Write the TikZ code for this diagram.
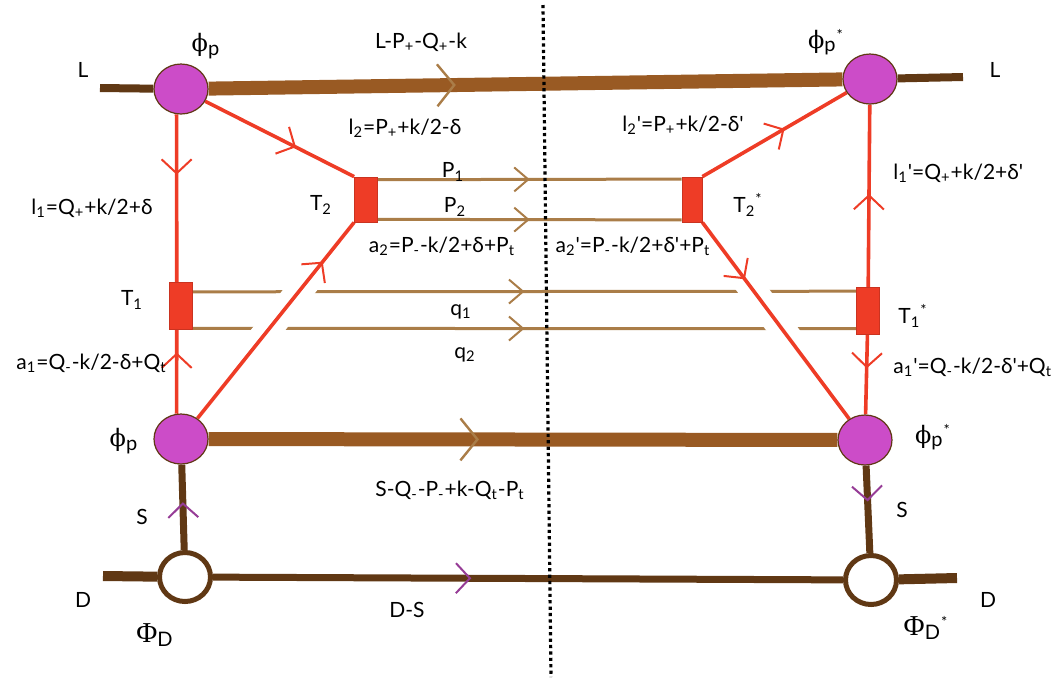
\documentclass[tikz,border=0pt]{standalone}
\usepackage{fontspec}
\setmainfont{Lato}[Ligatures=TeXOff]
\newfontfamily\greekserif{Liberation Serif}
\newfontfamily\phiserif{DejaVu Serif}
\usetikzlibrary{positioning, arrows.meta, shapes.geometric, decorations.markings, backgrounds}

\definecolor{blobpink}{RGB}{204,76,200}
\definecolor{vred}{RGB}{238,60,38}
\definecolor{heavybrown}{RGB}{153,90,35}
\definecolor{darkbrown}{RGB}{96,56,20}
\definecolor{tanline}{RGB}{170,125,72}
\definecolor{arrowpurple}{RGB}{150,60,150}

\newcommand{\phiP}{{\large{\phiserif ϕ}\textsubscript{\normalsize p}}}
\newcommand{\PhiD}{{\Large{\greekserif Φ}\textsubscript{D}}}

\begin{document}
\begin{tikzpicture}[
    x=0.5pt, y=-0.5pt,
    blob/.style = {
        ellipse, draw=darkbrown, line width=0.6pt, fill=blobpink,
        minimum width=27pt, minimum height=25pt, inner sep=0pt
    },
    ring/.style = {
        ellipse, draw=darkbrown, line width=2.5pt, fill=white,
        minimum width=25.5pt, minimum height=24.5pt, inner sep=0pt
    },
    vertex/.style = {
        rectangle, fill=vred, draw=vred!85!black, line width=0.4pt,
        minimum width=11.5pt, minimum height=23.5pt, inner sep=0pt
    },
    tag/.style = {font=\fontsize{10.5}{12}\selectfont, inner sep=0pt},
    heavy/.style = {line width=7pt, color=heavybrown},
    stub/.style = {line width=4pt, color=darkbrown},
    fermion/.style = {line width=1.8pt, color=vred},
    gline/.style = {line width=1.5pt, color=tanline},
    dline/.style = {line width=3.5pt, color=darkbrown},
    halo/.style = {line width=13.5pt, color=white},
    cut/.style = {line width=1.6pt, dash pattern=on 1.6pt off 1.6pt},
    flow/.style 2 args = {
        postaction={decorate},
        decoration={markings, mark=at position #1 with {\arrow{#2}}}
    },
    redbarb/.tip = {Straight Barb[length=7pt, width=15pt, line width=1pt, color=vred]},
    tanbarb/.tip = {Straight Barb[length=7pt, width=12pt, line width=1pt, color=tanline]},
    heavybarb/.tip = {Straight Barb[length=8.5pt, width=21pt, line width=1.2pt, color=tanline]},
    purplebarb/.tip = {Straight Barb[length=7pt, width=15pt, line width=1pt, color=arrowpurple]}
]
\useasboundingbox (0,0) rectangle (1057,677);

% Vertices ── phi_p blobs, Phi_D rings, T boxes
\node[blob]   (phiTL) at (181,89)  {};
\node[blob]   (phiTR) at (870,79)  {};
\node[blob]   (phiBL) at (181,439) {};
\node[blob]   (phiBR) at (865,440) {};
\node[ring]   (PhiDL) at (185,577) {};
\node[ring]   (PhiDR) at (871,580) {};
\node[vertex] (T1)  at (181,306) {};
\node[vertex] (T1s) at (868,311) {};
\node[vertex, minimum height=22.5pt] (T2)  at (366,199.5) {};
\node[vertex, minimum width=10pt, minimum height=22.5pt] (T2s) at (692,199.5) {};

% Free ends
\coordinate (Lin)    at (100,88);
\coordinate (Lout)   at (963,77);
\coordinate (Din)    at (103,576);
\coordinate (Dout)   at (957,578);
\coordinate (cutTop) at (543,5);
\coordinate (cutBot) at (551,677);

\begin{scope}[on background layer]
% Heavy lines
\draw[stub] (Lin) -- (phiTL);
\draw[heavy, flow={0.39}{heavybarb}] (phiTL) -- (phiTR);
\draw[stub] (phiTR) -- (Lout);
\draw[heavy, flow={0.43}{heavybarb}] (phiBL) -- (phiBR);

% P and q lines
\draw[gline, flow={0.5}{tanbarb}] (T2.59)  -- (T2s.117);
\draw[gline, flow={0.5}{tanbarb}] (T2.-59) -- (T2s.-117);
\draw[gline, flow={0.5}{tanbarb}] (T1.50)  -- (T1s.121);
\draw[gline, flow={0.5}{tanbarb}] (T1.-62) -- (T1s.-124);

% Red lines
\draw[fermion, flow={0.36}{redbarb}] (phiTL.-100) -- (T1.100);
\draw[fermion, flow={0.73}{redbarb}] (phiBL.100) -- (T1.-100);
\draw[fermion, flow={0.61}{redbarb}] (phiTL) -- (T2.north west);
\draw[halo, shorten <=46pt, shorten >=34pt] (phiBL) -- (T2.south west);
\draw[fermion, flow={0.8}{redbarb}] (phiBL) -- (T2.south west);
\draw[fermion, flow={0.57}{redbarb}] (T2s.north east) -- (phiTR);
\draw[halo, shorten <=33pt, shorten >=45pt] (T2s.south east) -- (phiBR);
\draw[fermion, flow={0.29}{redbarb}] (T2s.south east) -- (phiBR);
\draw[fermion, flow={0.51}{redbarb}] (T1s) -- (phiTR);
\draw[fermion, flow={0.42}{redbarb}] (T1s) -- (phiBR);

% S and D lines
\draw[dline, flow={0.56}{purplebarb}] (PhiDL) -- (phiBL);
\draw[dline, flow={0.41}{purplebarb}] (phiBR) -- (PhiDR);
\draw[dline, flow={0.41}{purplebarb}] (PhiDL) -- (PhiDR);
\draw[stub, line width=5pt] (Din) -- (PhiDL);
\draw[stub, line width=5pt] (PhiDR) -- (Dout);
\end{scope}

% Cut
\draw[cut] (cutTop) -- (cutBot);

% Labels
\node[tag] (labLa)   at (83,70)   {L};
\node[tag] (labLb)   at (995,70)  {L};
\node[tag] (labTL)   at (206,46)  {\phiP};
\node[tag] (labTR)   at (826,42)  {\phiP\textsuperscript{*}};
\node[tag] (labBL)   at (124,441) {\phiP};
\node[tag] (labBR)   at (933,437) {\phiP\textsuperscript{*}};
\node[tag] (labtop)  at (421,42)  {L-P\textsubscript{+}-Q\textsubscript{+}-k};
\node[tag] (labl2)   at (405,128) {l\textsubscript{2}=P\textsubscript{+}+k/2-δ};
\node[tag] (labl2s)  at (683,125) {l\textsubscript{2}'=P\textsubscript{+}+k/2-δ'};
\node[tag] (labl1)   at (92,208)  {l\textsubscript{1}=Q\textsubscript{+}+k/2+δ};
\node[tag, anchor=west] (labl1s) at (893,173) {l\textsubscript{1}'=Q\textsubscript{+}+k/2+δ'};
\node[tag] (labT2)   at (321,205) {T\textsubscript{2}};
\node[tag] (labT2s)  at (748,205) {T\textsubscript{2}\textsuperscript{*}};
\node[tag] (labP1)   at (453,172) {P\textsubscript{1}};
\node[tag] (labP2)   at (455,207) {P\textsubscript{2}};
\node[tag] (laba2)   at (442,246) {a\textsubscript{2}=P\textsubscript{-}-k/2+δ+P\textsubscript{t}};
\node[tag] (laba2s)  at (633,246) {a\textsubscript{2}'=P\textsubscript{-}-k/2+δ'+P\textsubscript{t}};
\node[tag] (labT1)   at (132,300) {T\textsubscript{1}};
\node[tag] (labT1s)  at (913,316) {T\textsubscript{1}\textsuperscript{*}};
\node[tag] (labq1)   at (461,312) {q\textsubscript{1}};
\node[tag] (labq2)   at (465,355) {q\textsubscript{2}};
\node[tag, anchor=east] (laba1) at (167,363) {a\textsubscript{1}=Q\textsubscript{-}-k/2-δ+Q\textsubscript{t}};
\node[tag, anchor=west] (laba1s) at (893,367) {a\textsubscript{1}'=Q\textsubscript{-}-k/2-δ'+Q\textsubscript{t}};
\node[tag] (labbot)  at (450,490) {S-Q\textsubscript{-}-P\textsubscript{-}+k-Q\textsubscript{t}-P\textsubscript{t}};
\node[tag] (labSa)   at (142,517) {S};
\node[tag] (labSb)   at (902,510) {S};
\node[tag] (labDa)   at (83,600)  {D};
\node[tag] (labDb)   at (988,600) {D};
\node[tag] (labDS)   at (407,610) {D-S};
\node[tag] (labPhiL) at (155,635) {\PhiD};
\node[tag] (labPhiR) at (926,628) {\PhiD\textsuperscript{*}};

\end{tikzpicture}
\end{document}
